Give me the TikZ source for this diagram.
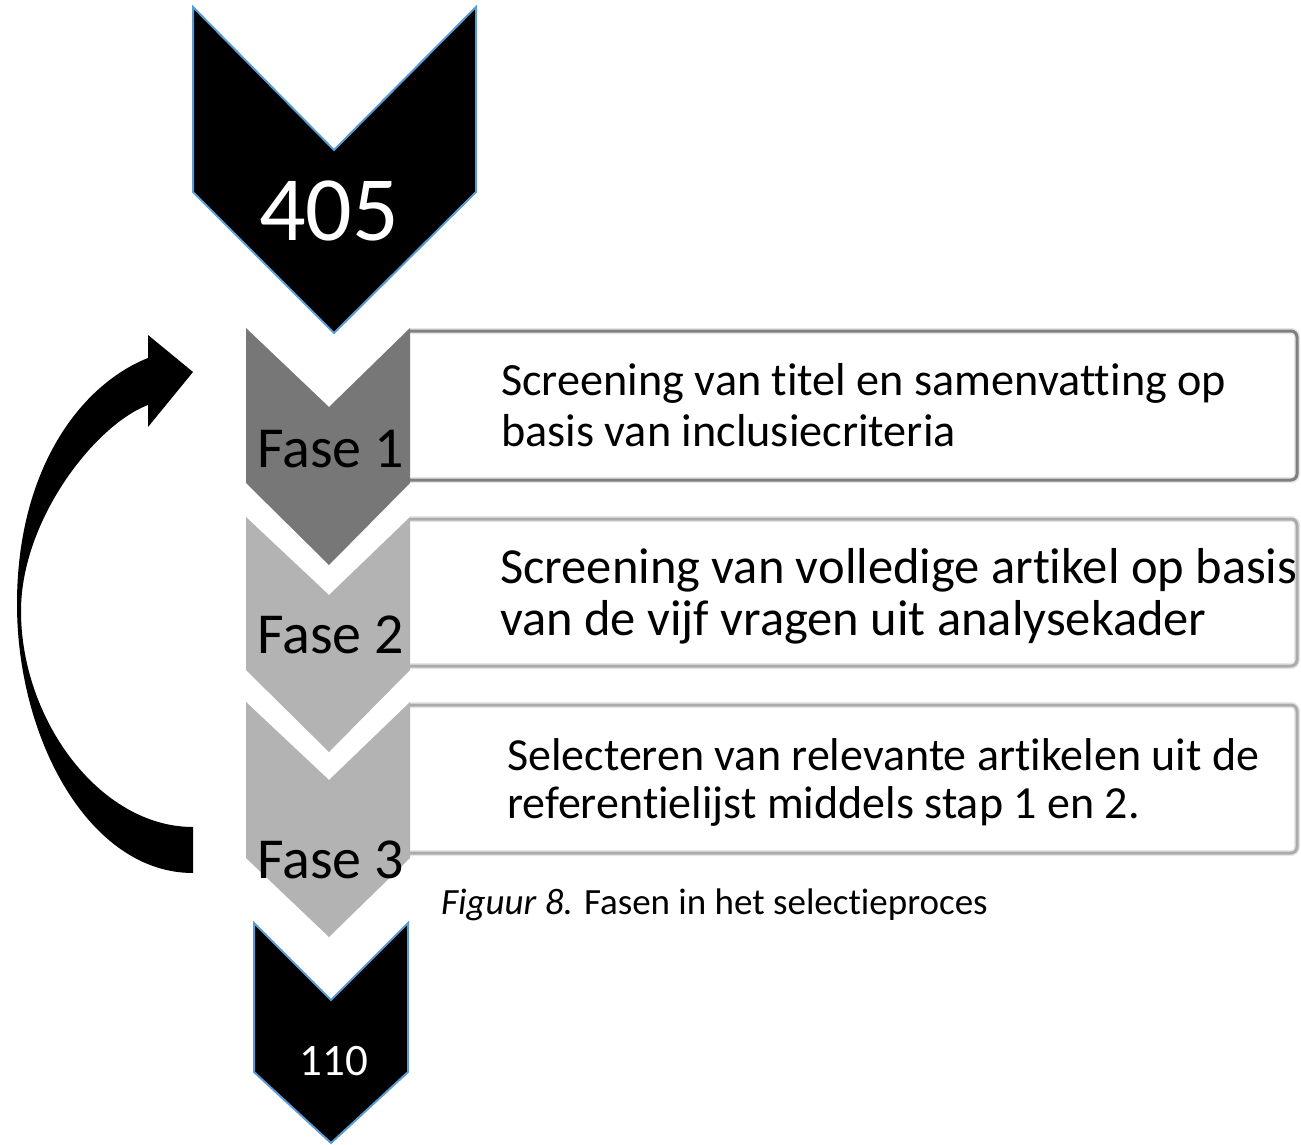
\documentclass[tikz,border=0pt]{standalone}
\usepackage{fontspec}
\setmainfont[Ligatures={NoCommon}]{Carlito}
\definecolor{chevblue}{HTML}{5B9BD5}
\definecolor{faseA}{HTML}{777777}
\definecolor{faseB}{HTML}{B3B3B3}
\definecolor{lineA}{HTML}{7F7F7F}
\definecolor{lineB}{HTML}{ABABAB}
\definecolor{shadowc}{HTML}{E6E6E6}
\begin{document}
\begin{tikzpicture}[x=1pt,y=-1pt,
  chev/.style={fill=black, draw=chevblue, line width=2pt, line join=miter},
  fasetxt/.style={font=\fontsize{58}{60}\selectfont, anchor=base west, inner sep=0pt},
  boxtxt/.style={anchor=base west, inner sep=0pt},
]
\useasboundingbox (0,0) rectangle (1301,1145);

% text boxes (open on the left, where they meet the chevrons)
\foreach \t/\b/\c in {331/480/lineA, 519/666/lineB, 705/853/lineB}{
  \fill[white] (410,\t) rectangle (1297,\b);
  \draw[draw=shadowc, line width=6pt, rounded corners=6pt] (410,\t) -- (1297,\t) -- (1297,\b) -- (410,\b);
  \draw[draw=\c, line width=3pt, rounded corners=6pt] (410,\t) -- (1297,\t) -- (1297,\b) -- (410,\b);
}

% top chevron 405
\draw[chev] (193,7) -- (334,150) -- (476,7) -- (476,192) -- (334,333) -- (193,192) -- cycle;
\node[font=\fontsize{92}{94}\selectfont, text=white, anchor=base, inner sep=0pt] (n405) at (329,240) {405};

% phase chevrons
\fill[faseA] (246,328) -- (329,407) -- (410,328) -- (410,483) -- (329,565) -- (246,483) -- cycle;
\fill[faseB] (246,517) -- (329,595) -- (410,517) -- (410,670) -- (329,752) -- (246,670) -- cycle;
\fill[faseB] (246,702) -- (329,780) -- (410,702) -- (410,858) -- (329,937) -- (246,858) -- cycle;

\node[fasetxt] (f1) at (257,467) {Fase 1};
\node[fasetxt] (f2) at (257,653) {Fase 2};
\node[fasetxt] (f3) at (257,878) {Fase 3};

% box texts
\node[boxtxt, font=\fontsize{46.2}{52}\selectfont] (t1a) at (501,395) {Screening van titel en samenvatting op};
\node[boxtxt, font=\fontsize{46.2}{52}\selectfont] (t1b) at (501,446) {basis van inclusiecriteria};
\node[boxtxt, font=\fontsize{50.5}{54}\selectfont] (t2a) at (500,583) {Screening van volledige artikel op basis};
\node[boxtxt, font=\fontsize{50.5}{54}\selectfont] (t2b) at (500,635) {van de vijf vragen uit analysekader};
\node[boxtxt, font=\fontsize{46}{50}\selectfont] (t3a) at (507,770) {Selecteren van relevante artikelen uit de};
\node[boxtxt, font=\fontsize{46}{50}\selectfont] (t3b) at (507,818) {referentielijst middels stap 1 en 2.};

% caption
\node[boxtxt, font=\fontsize{37}{40}\selectfont] (cap) at (441,914) {\textit{Figuur 8.} Fasen in het selectieproces};

% bottom chevron 110
\draw[chev] (254,923) -- (331,1000) -- (408,923) -- (408,1072) -- (331,1143) -- (254,1072) -- cycle;
\node[font=\fontsize{45}{47}\selectfont, text=white, anchor=base, inner sep=0pt] (n110) at (334,1075) {110};

% curved return arrow
\fill[black] (193,873) .. controls (90,873) and (17,740) .. (17,604)
  .. controls (17,470) and (80,385) .. (148,358)
  -- (148,335) -- (193,372) -- (148,427) -- (148,405)
  .. controls (95,425) and (21,520) .. (21,611)
  .. controls (21,720) and (100,827) .. (193,827) -- cycle;
\end{tikzpicture}
\end{document}
